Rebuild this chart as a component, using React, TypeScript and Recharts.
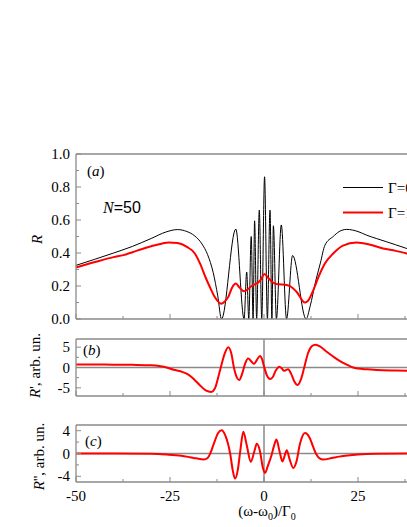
import React from 'react';
import { LineChart, Line, XAxis, YAxis, ReferenceLine, Label } from 'recharts';

// panel (a): reflectivity R, Γ=0 (black) and damped (red)
const blackX = [-50, -45, -40, -35, -30, -26, -23, -20.5, -18.5, -16.5, -15, -13.5, -12.3, -11.3,
  -7.5, -5.3, -4.6, -4.05, -3.4, -2.9, -2.5, -1.95, -1.25, -0.6, 0.15, 0.9, 1.6, 2.1, 2.5, 3.3,
  4.6, 6.0, 7.6, 11.2, 12.3, 13.6, 15, 16.2, 18.4, 20, 22, 25, 27.3, 30, 32.6, 35, 38, 42, 46, 50];
const blackR = [0.325, 0.362, 0.4, 0.44, 0.488, 0.528, 0.542, 0.53, 0.505, 0.455, 0.39, 0.28, 0.14, 0,
  0.545, 0, 0.285, 0, 0.5, 0, 0.595, 0, 0.66, 0, 0.862, 0, 0.66, 0, 0.565, 0,
  0.57, 0, 0.385, 0, 0.08, 0.215, 0.34, 0.447, 0.5, 0.53, 0.543, 0.53, 0.508, 0.487, 0.468, 0.45, 0.427, 0.4, 0.375, 0.35];

const redX = [-50, -45, -40, -37.4, -35, -30, -27, -25.4, -23, -20.5, -18.5, -17, -15.5, -14.4, -13, -11.4,
  -10.5, -9.5, -8.5, -7.5, -6.5, -5.3, -4.3, -3.3, -2.3, -1.5, -0.8, 0.1, 1.15, 2.5, 3.8, 5.6, 6.9, 8.7,
  10.9, 12, 13.1, 14.5, 16.2, 18.4, 21, 24.6, 28, 31.7, 35, 38, 44, 50];
const redR = [0.312, 0.345, 0.375, 0.387, 0.405, 0.441, 0.458, 0.464, 0.46, 0.437, 0.4, 0.336, 0.25, 0.194, 0.13, 0.093,
  0.105, 0.134, 0.19, 0.215, 0.19, 0.168, 0.18, 0.2, 0.212, 0.222, 0.24, 0.272, 0.249, 0.219, 0.21, 0.208, 0.199, 0.164,
  0.1, 0.12, 0.174, 0.255, 0.336, 0.397, 0.445, 0.464, 0.452, 0.427, 0.413, 0.397, 0.36, 0.33];

// panel (b): R'
const bX = [-50, -45, -40, -35, -30, -27.5, -25.9, -24, -22, -20, -18.5, -17, -15.5, -14, -13, -12.2, -11.5,
  -10.5, -9.5, -8.7, -8, -7.2, -6.6, -5.8, -5, -4.2, -3.3, -2.66, -1.8, -1.06, -0.5, 0, 0.8, 1.6, 2.3, 3.1,
  4.07, 4.8, 5.3, 5.9, 6.4, 7.2, 8.0, 8.96, 9.8, 10.7, 11.7, 12.7, 13.7, 15, 16.5, 18.4, 20, 22, 23.7, 25,
  27.3, 30, 35, 38, 44, 50];
const bV = [0.75, 0.72, 0.7, 0.65, 0.55, 0.3, 0, -0.55, -1.0, -1.8, -3.0, -4.4, -5.6, -6.0, -5.0, -2.5, 0,
  3.3, 5.0, 3.5, 0, -2.5, -3.1, -1.5, 1.0, 2.2, 1.4, 0.9, 2.0, 2.85, 2.0, 0.3, -2.0, -2.85, -2.4, -0.8,
  0.2, -0.3, -0.8, -0.6, -0.45, -1.5, -3.3, -4.3, -3.0, 0, 3.5, 5.2, 5.6, 5.1, 4.0, 2.7, 1.7, 0.7, 0, -0.25,
  -0.45, -0.6, -0.75, -0.82, -0.88, -0.9];

// panel (c): R''
const cX = [-50, -40, -30, -25.9, -22, -19.7, -18, -16, -15, -14.3, -13.2, -12.2, -11.25, -10.3, -9, -8.3, -7.7,
  -7, -6.3, -5.5, -4.6, -3.5, -2.6, -1.9, -1.1, -0.3, 0.27, 1.0, 2.0, 2.6, 3.3, 4.1, 4.9, 5.4, 6.05, 6.8,
  7.8, 8.6, 9.6, 10.9, 12.1, 13, 13.8, 14.7, 15.8, 18, 20, 25, 30, 40, 50];
const cV = [0, 0, -0.05, -0.18, -0.4, -0.65, -0.85, -1.05, -0.8, 0, 2.0, 3.6, 4.1, 3.2, 0, -3.0, -4.4,
  -3.0, 0.5, 3.8, 1.5, -1.47, 0.3, 1.7, 0.5, -2.5, -3.4, -2.2, -0.3, 1.2, 2.45, 0.5, -1.4, -0.6, 0.58, -1,
  -2.55, -1.5, 1.8, 3.6, 2.8, 1.3, 0, -0.8, -1.05, -0.8, -0.55, -0.18, -0.05, 0, 0];

const xTicks = [-50, -37.5, -25, -12.5, 0, 12.5, 25, 37.5, 50];
const aTicks = [0, 0.1, 0.2, 0.3, 0.4, 0.5, 0.6, 0.7, 0.8, 0.9, 1.0];
const bTicks = [-5, -2.5, 0, 2.5, 5];
const cTicks = [-4, -2, 0, 2, 4];

const FRAME = '#8a8a8a';
const W = 470;
const FONT = "'Liberation Serif', 'Times New Roman', serif";
const SANS = "'Liberation Sans', Arial, sans-serif";

const rows = (xs: number[], ys: number[]) => xs.map((x, i) => ({ x, y: ys[i] }));

const T = (props: any) => <text fontFamily={FONT} fontSize={15} fill="#000" {...props} />;

const BottomTick = (p: any) => {
  const v = p.payload.value;
  const major = v % 25 === 0;
  return (
    <g>
      <line x1={p.x} x2={p.x} y1={p.y} y2={p.y - (major ? 5 : 3)} stroke={FRAME} />
      {p.labels && major && v < 40 ? (
        <T x={p.x} y={p.y + 19} textAnchor="middle">{v}</T>
      ) : null}
    </g>
  );
};

const TopTick = (p: any) => {
  const major = p.payload.value % 25 === 0;
  return <line x1={p.x} x2={p.x} y1={p.y} y2={p.y + (major ? 5 : 3)} stroke={FRAME} />;
};

const LeftTick = (p: any) => {
  const v = p.payload.value;
  const major = p.isMajor(v);
  return (
    <g>
      <line x1={p.x} x2={p.x + (major ? 5 : 3)} y1={p.y} y2={p.y} stroke={FRAME} />
      {major ? (
        <T x={p.x - 6} y={p.y + 5} textAnchor="end">{p.fmt(v)}</T>
      ) : null}
    </g>
  );
};

const yTitle = (prime: string, dx: number, dy: number) => (props: any) => {
  const vb = props.viewBox;
  const cx = vb.x + dx;
  const cy = vb.y + vb.height / 2 + dy;
  return (
    <T transform={`translate(${cx},${cy}) rotate(-90)`} textAnchor="middle">
      <tspan fontStyle="italic">R</tspan>
      {prime}
    </T>
  );
};

const xTitle = (props: any) => {
  const vb = props.viewBox;
  const cx = vb.x + vb.width / 2 + 3;
  return (
    <T x={cx} y={vb.y + 34} textAnchor="middle">
      (ω-ω<tspan fontSize={10} dy={4}>0</tspan>
      <tspan dy={-4}>)/Γ</tspan>
      <tspan fontSize={10} dy={4}>0</tspan>
    </T>
  );
};

function Axes({ yTicks, yDomain, isMajor, fmt, title, labels, bottomH }: any) {
  return [
    <XAxis key="xb" xAxisId={0} type="number" dataKey="x" domain={[-50, 50]} ticks={xTicks} interval={0}
      height={bottomH} tickSize={0} tickMargin={0} axisLine={{ stroke: FRAME, strokeWidth: 1.3 }} tickLine={false}
      tick={(p: any) => <BottomTick {...p} labels={labels} />}>
      {labels ? <Label content={xTitle} /> : null}
    </XAxis>,
    <XAxis key="xt" xAxisId="top" orientation="top" type="number" dataKey="x" domain={[-50, 50]} ticks={xTicks}
      interval={0} height={1} tickSize={0} tickMargin={0} axisLine={{ stroke: FRAME, strokeWidth: 1.3 }}
      tickLine={false} tick={(p: any) => <TopTick {...p} />} />,
    <YAxis key="yl" type="number" domain={yDomain} ticks={yTicks} interval={0} width={60} tickSize={0}
      tickMargin={0} axisLine={{ stroke: FRAME, strokeWidth: 1.3 }} tickLine={false}
      tick={(p: any) => <LeftTick {...p} isMajor={isMajor} fmt={fmt} />}>
      <Label content={title} />
    </YAxis>,
  ];
}

export default function App() {
  const blackData = rows(blackX, blackR);
  const redData = rows(redX, redR);
  const bData = rows(bX, bV);
  const cData = rows(cX, cV);

  return (
    <div style={{ position: 'fixed', left: 0, top: 0, width: 407, height: 527, overflow: 'hidden', background: '#fff', fontFamily: FONT }}>
      <LineChart width={W} height={328} margin={{ top: 153, right: 18, bottom: 8, left: 16 }}>
        {Axes({
          yTicks: aTicks, yDomain: [0, 1], isMajor: (v: number) => Math.round(v * 10) % 2 === 0,
          fmt: (v: number) => v.toFixed(1), title: yTitle('', 26, 3), labels: false, bottomH: 1,
        })}
        <Line data={blackData} dataKey="y" type="monotone" stroke="#000" strokeWidth={1} dot={false} isAnimationActive={false} />
        <Line data={redData} dataKey="y" type="monotone" stroke="#ff0000" strokeWidth={2} dot={false} isAnimationActive={false} />
        <T x={87} y={176}>(<tspan fontStyle="italic">a</tspan>)</T>
        <T x={103} y={213} fontSize={16}>
          <tspan fontStyle="italic">N</tspan>
          <tspan fontFamily={SANS}>=50</tspan>
        </T>
        <line x1={343} x2={383} y1={187.5} y2={187.5} stroke="#000" strokeWidth={1} />
        <T x={388} y={193}>Γ=0</T>
        <line x1={343} x2={383} y1={212.5} y2={212.5} stroke="#ff0000" strokeWidth={2} />
        <T x={388} y={218}>Γ=1</T>
      </LineChart>
      <LineChart width={W} height={82} margin={{ top: 10, right: 18, bottom: 13, left: 16 }}>
        {Axes({
          yTicks: bTicks, yDomain: [-7, 7], isMajor: (v: number) => v % 5 === 0,
          fmt: (v: number) => String(v), title: yTitle("', arb. un.", 24, -2), labels: false, bottomH: 1,
        })}
        <ReferenceLine y={0} stroke={FRAME} strokeWidth={1.5} />
        <ReferenceLine x={0} stroke={FRAME} strokeWidth={1.5} />
        <Line data={bData} dataKey="y" type="monotone" stroke="#ff0000" strokeWidth={2} dot={false} isAnimationActive={false} />
        <T x={83} y={27}>(<tspan fontStyle="italic">b</tspan>)</T>
      </LineChart>
      <LineChart width={W} height={117} margin={{ top: 14, right: 18, bottom: 10, left: 16 }}>
        {Axes({
          yTicks: cTicks, yDomain: [-5, 5], isMajor: (v: number) => v % 4 === 0,
          fmt: (v: number) => String(v), title: yTitle("'', arb. un.", 28, 3), labels: true, bottomH: 35,
        })}
        <ReferenceLine y={0} stroke={FRAME} strokeWidth={1.5} />
        <ReferenceLine x={0} stroke={FRAME} strokeWidth={1.5} />
        <Line data={cData} dataKey="y" type="monotone" stroke="#ff0000" strokeWidth={2} dot={false} isAnimationActive={false} />
        <T x={85} y={36}>(<tspan fontStyle="italic">c</tspan>)</T>
      </LineChart>
    </div>
  );
}
